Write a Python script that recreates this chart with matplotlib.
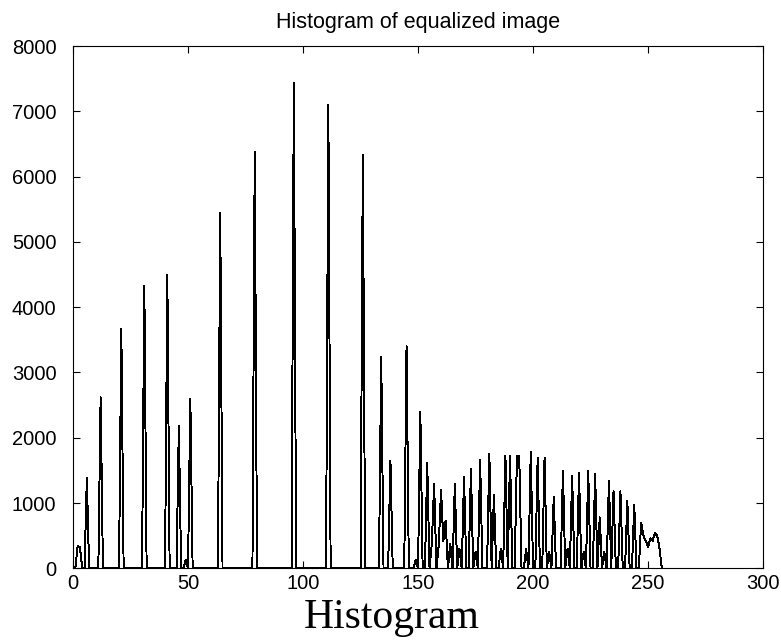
import numpy as np
import matplotlib
matplotlib.use('Agg')
import matplotlib.pyplot as plt

# histogram of the equalized image: 256 grey levels, most bins empty
n_bins = 256
spike_bins = [2, 3, 6, 12, 21, 31, 41, 46, 49, 51, 64, 79, 96, 111, 126,
              134, 138, 145, 149, 151, 154, 156, 157, 159, 160, 161, 162, 164,
              166, 168, 170, 173, 175, 177, 181, 183, 186, 188, 190, 193, 194,
              197, 199, 202, 205, 207, 209, 213, 215, 217, 220, 222, 224, 227,
              229, 231, 233, 235, 238, 241, 244, 247, 248, 249, 250, 251, 252,
              253, 254, 255]
spike_counts = [340, 330, 1380, 2620, 3670, 4330, 4490, 2180, 130, 2600, 5450,
                6380, 7430, 7100, 6330, 3240, 1650, 3400, 130, 2400, 1610, 380,
                1290, 350, 1200, 420, 730, 380, 1290, 300, 1400, 1520, 250,
                1660, 1760, 1120, 300, 1720, 1720, 1720, 1720, 300, 1780, 1690,
                1690, 250, 1100, 1490, 300, 1420, 1460, 250, 1490, 1440, 780,
                250, 1340, 1180, 1180, 1030, 970, 700, 500, 420, 330, 460, 420,
                540, 500, 300]

counts = np.zeros(n_bins)
counts[np.array(spike_bins) - 1] = spike_counts
levels = np.arange(1, n_bins + 1)

fig = plt.figure(figsize=(7.81, 6.4), dpi=100)
ax = fig.add_axes([0.0935, 0.112, 0.8835, 0.816])

# thin aliased line, like the old MATLAB screen capture
ax.plot(levels, counts, color='black', linewidth=0.7, antialiased=False)

ax.set_xlim(0, 300)
ax.set_ylim(0, 8000)
ax.set_xticks(np.arange(0, 301, 50))
ax.set_yticks(np.arange(0, 8001, 1000))
ax.tick_params(direction='in', top=True, right=True, length=5, width=0.8,
               labelsize=14.5)
ax.tick_params(axis='y', pad=12)
ax.tick_params(axis='x', pad=4)
for lbl in ax.get_xticklabels() + ax.get_yticklabels():
    lbl.set_family('Liberation Sans')
for sp in ax.spines.values():
    sp.set_linewidth(0.8)

ax.set_title('Histogram of equalized image', fontsize=15.5,
             family='Liberation Sans', pad=13)

fig.text(0.502, 0.018, 'Histogram', ha='center', va='baseline',
         fontsize=30, family='Liberation Serif')

fig.savefig('out.png', dpi=100)
